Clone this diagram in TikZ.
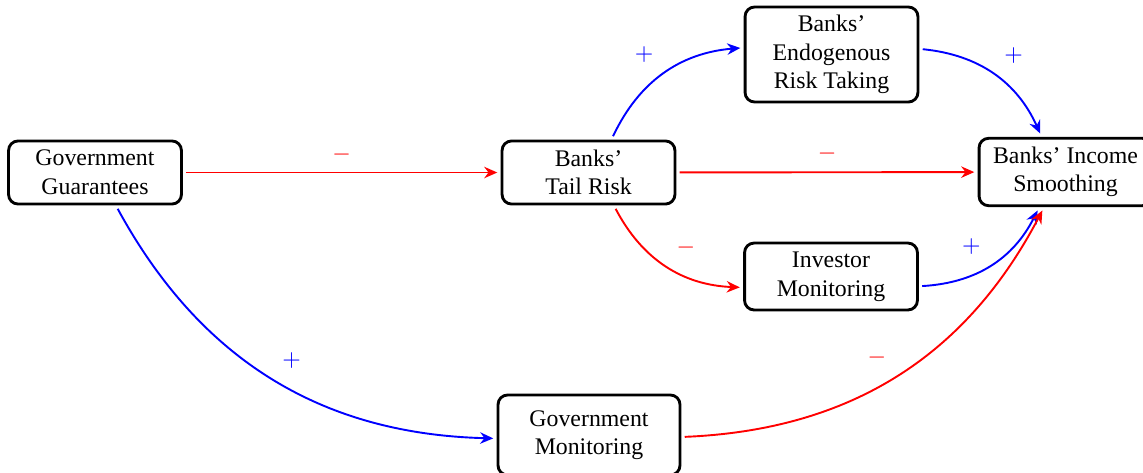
\documentclass[tikz,border=0pt]{standalone}
\usepackage{fontspec}
\setmainfont{Liberation Serif}
\usetikzlibrary{arrows.meta}
\begin{document}
\begin{tikzpicture}[x=0.41995pt,y=-0.41995pt,
  box/.style={draw,very thick,rounded corners=4pt,align=center,minimum width=72.6pt,minimum height=26.5pt,inner sep=2pt,outer sep=2pt},
  link/.style={thick,-{Stealth[length=5.5pt,width=4.8pt,inset=1.8pt]}},
  poslink/.style={link,blue},
  neglink/.style={link,red},
  lbl/.style={auto,inner sep=4pt}]
\useasboundingbox (0,0) rectangle (1143,472);
\node[box] (gg) at (95,172.5) {Government\\Guarantees};
\node[box] (tr) at (588.5,172.5) {Banks’\\Tail Risk};
\node[box,minimum height=28.3pt] (inc) at (1065.5,172) {Banks’ Income\\Smoothing};
\node[box,minimum height=39.9pt] (endo) at (831.5,54.5) {Banks’\\Endogenous\\Risk Taking};
\node[box,minimum height=28.1pt] (inv) at (831,276.5) {Investor\\Monitoring};
\node[box,minimum width=76.4pt,minimum height=33.6pt] (gm) at (589,435) {Government\\Monitoring};
\draw[neglink] (gg) -- node[lbl]{$-$} (tr);
\draw[neglink] (tr) -- node[lbl]{$-$} (inc);
\draw[poslink] (tr) to[bend left=30] node[lbl]{$+$} (endo);
\draw[poslink] (endo) to[bend left=30] node[lbl]{$+$} (inc);
\draw[neglink] (tr) to[bend right=30] node[lbl]{$-$} (inv);
\draw[poslink] (inv) to[bend right=30] node[lbl]{$+$} (inc);
\draw[poslink] (gg) to[bend right=30] node[lbl]{$+$} (gm);
\draw[neglink] (gm) to[bend right=30] node[lbl]{$-$} (inc);
\end{tikzpicture}
\end{document}
